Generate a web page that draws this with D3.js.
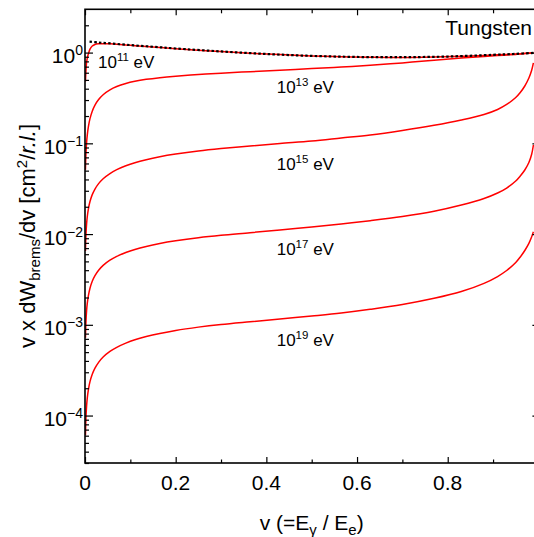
<!DOCTYPE html>
<html><head><meta charset="utf-8">
<script src="https://cdn.jsdelivr.net/npm/d3@7"></script>
<style>
body{margin:0;background:#fff}
svg{display:block}
text{font-family:"Liberation Sans",Arial,Helvetica,sans-serif;fill:#000}
</style>
</head><body>
<svg id="c" width="534" height="537"></svg>
<script>
// ---------------- data ----------------
const vGrid = [0.001, 0.002, 0.0035, 0.005, 0.0075, 0.011, 0.016, 0.022, 0.03, 0.04, 0.055, 0.07, 0.09, 0.11, 0.135, 0.165, 0.2, 0.25, 0.3, 0.364, 0.43, 0.5, 0.565, 0.629, 0.7, 0.77, 0.83, 0.88, 0.91, 0.93, 0.95, 0.96, 0.97, 0.979, 0.985, 0.989];
const e11 = [0.48, 0.62, 0.78, 0.87, 0.97, 1.09, 1.18, 1.23, 1.25, 1.255, 1.25, 1.235, 1.215, 1.19, 1.165, 1.14, 1.105, 1.06, 1.025, 0.985, 0.95, 0.92, 0.90, 0.89, 0.885, 0.895, 0.91, 0.93, 0.945, 0.955, 0.968, 0.974, 0.98, 0.985, 0.989, 0.992];
const e13 = [0.0511, 0.0749, 0.1016, 0.1232, 0.1530, 0.1869, 0.2261, 0.2638, 0.3041, 0.3436, 0.3884, 0.4223, 0.4564, 0.4824, 0.5070, 0.5292, 0.5497, 0.5741, 0.5939, 0.6158, 0.6398, 0.6664, 0.6922, 0.7244, 0.7700, 0.8225, 0.8696, 0.906, 0.9268, 0.9409, 0.9554, 0.9651, 0.9749, 0.9824, 0.9874, 0.9911];
const e15 = [6.505e-3, 9.592e-3, 1.291e-2, 1.553e-2, 1.898e-2, 2.285e-2, 2.722e-2, 3.138e-2, 3.599e-2, 4.076e-2, 4.65e-2, 5.122e-2, 5.653e-2, 6.115e-2, 6.60e-2, 7.104e-2, 7.607e-2, 8.234e-2, 8.758e-2, 9.35e-2, 9.96e-2, 0.1061, 0.1145, 0.1235, 0.1385, 0.158, 0.1808, 0.2078, 0.236, 0.268, 0.320, 0.3633, 0.4283, 0.5248, 0.6347, 0.768];
const e17 = [7.205e-4, 1.062e-3, 1.430e-3, 1.721e-3, 2.102e-3, 2.531e-3, 3.016e-3, 3.476e-3, 3.987e-3, 4.514e-3, 5.151e-3, 5.673e-3, 6.263e-3, 6.773e-3, 7.311e-3, 7.87e-3, 8.427e-3, 9.118e-3, 9.703e-3, 1.035e-2, 1.109e-2, 1.197e-2, 1.291e-2, 1.404e-2, 1.562e-2, 1.786e-2, 2.09e-2, 2.466e-2, 2.835e-2, 3.218e-2, 3.844e-2, 4.364e-2, 5.083e-2, 6.146e-2, 7.53e-2, 9.58e-2];
const e19 = [6.084e-5, 9.25e-5, 1.276e-4, 1.556e-4, 1.936e-4, 2.365e-4, 2.854e-4, 3.332e-4, 3.86e-4, 4.416e-4, 5.09e-4, 5.648e-4, 6.284e-4, 6.849e-4, 7.43e-4, 8.04e-4, 8.675e-4, 9.43e-4, 1.0085e-3, 1.081e-3, 1.158e-3, 1.25e-3, 1.349e-3, 1.482e-3, 1.674e-3, 1.959e-3, 2.328e-3, 2.866e-3, 3.405e-3, 3.966e-3, 4.86e-3, 5.59e-3, 6.59e-3, 7.91e-3, 9.28e-3, 1.062e-2];
const bhV = [0.01, 0.03, 0.05, 0.1, 0.15, 0.2, 0.3, 0.4, 0.5, 0.6, 0.7, 0.8, 0.9, 0.95, 0.989];
const bhY = [1.32, 1.29, 1.27, 1.21, 1.16, 1.11, 1.03, 0.965, 0.92, 0.895, 0.89, 0.905, 0.945, 0.968, 0.992];
const seriesExp = ["11", "13", "15", "17", "19"];
const xMajorTicks = [0, 0.2, 0.4, 0.6, 0.8, 1.0];
const xMinorTicks = [0.1, 0.3, 0.5, 0.7, 0.9];
const xTickLabels = ["0", "0.2", "0.4", "0.6", "0.8"];
const yDecadeExps = [0, -1, -2, -3, -4];
const yMinorMult = [2, 3, 4, 5, 6, 7, 8, 9];
const xDomain = [0, 1];
const yDomain = [3e-5, 3];

// ---------------- layout ----------------
const L = 85, R = 538.4, T = 9.3, B = 463;
const svg = d3.select("#c");
svg.append("rect").attr("width", 534).attr("height", 537).attr("fill", "#fff");

const x = d3.scaleLinear().domain(xDomain).range([L, R]);
const y = d3.scaleLog().domain(yDomain).range([B, T]);

const yMajor = yDecadeExps.map(e => Math.pow(10, e));
const yMinor = [];
[-5, -4, -3, -2, -1, 0].forEach(e => yMinorMult.forEach(m => {
  const v = m * Math.pow(10, e);
  if (v > yDomain[0] && v < yDomain[1]) yMinor.push(v);
}));

svg.append("clipPath").attr("id", "clip").append("rect")
  .attr("x", L).attr("y", T).attr("width", R - L).attr("height", B - T);

// curves
const line = d3.line().x(d => x(d[0])).y(d => y(d[1])).curve(d3.curveCatmullRom.alpha(0.5));
const gC = svg.append("g").attr("clip-path", "url(#clip)");
[e11, e13, e15, e17, e19].forEach(s => {
  gC.append("path").datum(vGrid.map((v, i) => [v, s[i]]))
    .attr("d", line).attr("fill", "none").attr("stroke", "#ff0000").attr("stroke-width", 1.5);
});
gC.append("path").datum(bhV.map((v, i) => [v, bhY[i]]))
  .attr("d", line).attr("fill", "none").attr("stroke", "#000")
  .attr("stroke-width", 2.2).attr("stroke-dasharray", "2.5,2.2");

// axes (ticks inward)
function styleAxis(g) {
  g.select(".domain").remove();
  g.selectAll(".tick line").attr("stroke", "#000").attr("stroke-width", 1.2);
  g.selectAll(".tick text").remove();
}
svg.append("g").attr("transform", `translate(0,${B})`).call(d3.axisBottom(x).tickValues(xMajorTicks).tickSize(-6).tickFormat("")).call(styleAxis);
svg.append("g").attr("transform", `translate(0,${B})`).call(d3.axisBottom(x).tickValues(xMinorTicks).tickSize(-3.5).tickFormat("")).call(styleAxis);
svg.append("g").attr("transform", `translate(0,${T})`).call(d3.axisTop(x).tickValues(xMajorTicks).tickSize(-6).tickFormat("")).call(styleAxis);
svg.append("g").attr("transform", `translate(0,${T})`).call(d3.axisTop(x).tickValues(xMinorTicks).tickSize(-4).tickFormat("")).call(styleAxis);
svg.append("g").attr("transform", `translate(${L},0)`).call(d3.axisLeft(y).tickValues(yMajor).tickSize(-8).tickFormat("")).call(styleAxis);
svg.append("g").attr("transform", `translate(${L},0)`).call(d3.axisLeft(y).tickValues(yMinor).tickSize(-4).tickFormat("")).call(styleAxis);
svg.append("g").attr("transform", `translate(${R},0)`).call(d3.axisRight(y).tickValues(yMajor).tickSize(-6).tickFormat("")).call(styleAxis);
svg.append("g").attr("transform", `translate(${R},0)`).call(d3.axisRight(y).tickValues(yMinor).tickSize(-3).tickFormat("")).call(styleAxis);

// frame
svg.append("rect").attr("x", L).attr("y", T).attr("width", R - L).attr("height", B - T)
  .attr("fill", "none").attr("stroke", "#000").attr("stroke-width", 1.6);

// x tick labels
xTickLabels.forEach((t, i) => {
  svg.append("text").attr("x", x(xMajorTicks[i])).attr("y", 490)
    .attr("text-anchor", "middle").attr("font-size", 21).text(t);
});
// y tick labels
yDecadeExps.forEach(e => {
  const t = svg.append("text").attr("x", 83).attr("y", y(Math.pow(10, e)) + 10.5)
    .attr("text-anchor", "end").attr("font-size", 21);
  t.append("tspan").text("10");
  t.append("tspan").attr("dy", -8).attr("font-size", 14).text(e === 0 ? "0" : "\u2212" + Math.abs(e));
});

// curve labels
const labelPos = [[98, 68], [276.7, 93.3], [276.7, 170], [276.7, 255], [276.7, 346]];
seriesExp.forEach((ex, i) => {
  const t = svg.append("text").attr("x", labelPos[i][0]).attr("y", labelPos[i][1]).attr("font-size", 17);
  t.append("tspan").text("10");
  t.append("tspan").attr("dy", -7).attr("font-size", 11.5).text(ex);
  t.append("tspan").attr("dy", 7).text(" eV");
});

// Tungsten
svg.append("text").attr("x", 532).attr("y", 35).attr("text-anchor", "end").attr("font-size", 21).text("Tungsten");

// x title
{
  const t = svg.append("text").attr("x", 311.7).attr("y", 530).attr("text-anchor", "middle").attr("font-size", 21);
  t.append("tspan").text("v (=E");
  t.append("tspan").attr("dy", 5).attr("font-size", 15).text("\u03b3");
  t.append("tspan").attr("dy", -5).text(" / E");
  t.append("tspan").attr("dy", 5).attr("font-size", 15).text("e");
  t.append("tspan").attr("dy", -5).text(")");
}
// y title
{
  const t = svg.append("text").attr("transform", "translate(35,236) rotate(-90)")
    .attr("text-anchor", "middle").attr("font-size", 22);
  t.append("tspan").text("v x dW");
  t.append("tspan").attr("dy", 5).attr("font-size", 15).text("brems");
  t.append("tspan").attr("dy", -5).text("/dv [cm");
  t.append("tspan").attr("dy", -8).attr("font-size", 15).text("2");
  t.append("tspan").attr("dy", 8).text("/");
  t.append("tspan").attr("font-style", "italic").text("r.l.");
  t.append("tspan").text("]");
}
</script>
</body></html>
